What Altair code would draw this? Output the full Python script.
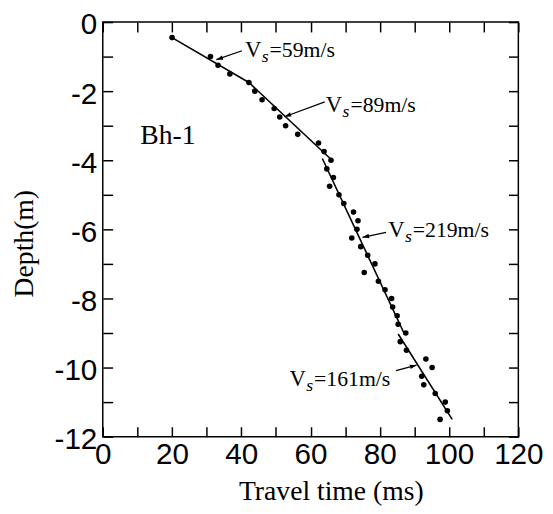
import math
import altair as alt
import pandas as pd

# ---- data ----
travel_time = [20.0, 31.1, 33.3, 36.7, 42.2, 43.9, 46.0, 49.5, 51.1, 52.8, 56.3,
               62.3, 63.9, 65.9, 64.7, 66.6, 65.5, 68.2, 69.6, 72.4, 73.7, 73.4,
               71.9, 74.5, 76.5, 78.6, 75.5, 79.6, 81.5, 83.4, 83.7, 85.0, 85.3,
               87.5, 85.9, 87.7, 93.3, 95.1, 92.1, 92.7, 96.0, 98.9, 99.5, 97.4]
depth = [-0.45, -1.0, -1.25, -1.5, -1.75, -2.0, -2.25, -2.5, -2.75, -3.0, -3.25,
         -3.5, -3.75, -4.0, -4.25, -4.5, -4.75, -5.0, -5.25, -5.5, -5.75, -6.0,
         -6.25, -6.5, -6.75, -7.0, -7.25, -7.5, -7.75, -8.0, -8.25, -8.5, -8.75,
         -9.0, -9.25, -9.5, -9.75, -10.0, -10.25, -10.5, -10.75, -11.0, -11.25, -11.5]

# fitted velocity segments
seg_id = ["59", "59", "89", "89", "219", "219", "161", "161"]
seg_t = [20.0, 42.2, 42.2, 66.2, 63.4, 87.2, 85.3, 100.9]
seg_d = [-0.45, -1.75, -1.75, -4.0, -3.95, -9.05, -9.03, -11.5]

# velocity annotations
vs_text = ["=59m/s", "=89m/s", "=219m/s", "=161m/s"]
label_t = [41.05, 64.4, 82.4, 53.9]
label_d = [-0.80, -2.40, -6.03, -10.34]
arrow_t0 = [40.2, 64.1, 81.8, 84.7]
arrow_d0 = [-0.83, -2.31, -6.09, -10.09]
arrow_t1 = [32.8, 52.5, 75.0, 90.6]
arrow_d1 = [-1.09, -2.74, -6.23, -9.93]

site_label = ["Bh-1"]
site_t = [18.8]
site_d = [-3.54]

x_ticks = [0, 10, 20, 30, 40, 50, 60, 70, 80, 90, 100, 110, 120]
y_ticks = [-12, -11, -10, -9, -8, -7, -6, -5, -4, -3, -2, -1, 0]

W, H = 421, 420
SX, SY = W / 120.0, H / 12.0

pts = pd.DataFrame({"t": travel_time, "d": depth})
segs = pd.DataFrame({"seg": seg_id, "t": seg_t, "d": seg_d})
ann = pd.DataFrame({"txt": vs_text, "t": label_t, "d": label_d})
arr = pd.DataFrame({"t0": arrow_t0, "d0": arrow_d0, "t1": arrow_t1, "d1": arrow_d1})
arr["ang"] = [
    math.degrees(math.atan2(-(b1 - b0) * SY, (a1 - a0) * SX)) % 360
    for a0, b0, a1, b1 in zip(arrow_t0, arrow_d0, arrow_t1, arrow_d1)
]
site = pd.DataFrame({"txt": site_label, "t": site_t, "d": site_d})

xs = alt.Scale(domain=[0, 120], nice=False, zero=False)
ys = alt.Scale(domain=[-12, 0], nice=False, zero=False)

x_main = alt.Axis(
    orient="bottom", offset=-10, values=x_ticks, tickSize=10, tickWidth=1.5,
    tickColor="black", domain=False, grid=False,
    labelExpr="datum.value % 20 == 0 ? datum.label : ''",
    labelFont="Liberation Sans", labelFontSize=30, labelColor="black",
    labelPadding=3, labelFlush=False, labelOverlap=False,
    title="Travel time (ms)", titleFont="Liberation Serif", titleFontSize=28,
    titleFontWeight="normal", titleColor="black", titleX=231, titleY=74,
    titleAlign="center", titleBaseline="alphabetic",
)
y_main = alt.Axis(
    orient="left", offset=-10, values=y_ticks, tickSize=10, tickWidth=1.5,
    tickColor="black", domain=False, grid=False,
    labelExpr="datum.value % 2 == 0 ? replace(datum.label, '\u2212', '-') : ''",
    labelFont="Liberation Sans", labelFontSize=30, labelColor="black",
    labelPadding=6, labelOffset=3, labelFlush=False, labelOverlap=False,
    title="Depth(m)", titleFont="Liberation Serif", titleFontSize=28,
    titleFontWeight="normal", titleColor="black", titleX=-89, titleY=224,
    titleAngle=270, titleAlign="center", titleBaseline="middle",
)
x_top = alt.Axis(
    orient="top", offset=-10, values=x_ticks, tickSize=10, tickWidth=1.5,
    tickColor="black", domain=False, grid=False, labels=False, title=None,
)
y_right = alt.Axis(
    orient="right", offset=-10, values=y_ticks, tickSize=10, tickWidth=1.5,
    tickColor="black", domain=False, grid=False, labels=False, title=None,
)

points = alt.Chart(pts).mark_circle(color="black", size=32, opacity=1).encode(
    x=alt.X("t:Q", scale=xs, axis=x_main),
    y=alt.Y("d:Q", scale=ys, axis=y_main),
)

lines = alt.Chart(segs).mark_line(color="black", strokeWidth=1.6).encode(
    x=alt.X("t:Q", scale=xs, axis=x_top),
    y=alt.Y("d:Q", scale=ys, axis=y_right),
    detail="seg:N",
)

arrow_lines = alt.Chart(arr).mark_rule(color="black", strokeWidth=1.3).encode(
    x=alt.X("t0:Q", scale=xs, axis=None),
    y=alt.Y("d0:Q", scale=ys, axis=None),
    x2="t1:Q",
    y2="d1:Q",
)

arrow_heads = alt.Chart(arr).mark_point(
    shape="M0,0L-1,-0.34L-1,0.34Z", filled=True, color="black", size=180, opacity=1
).encode(
    x=alt.X("t1:Q", scale=xs, axis=None),
    y=alt.Y("d1:Q", scale=ys, axis=None),
    angle=alt.Angle("ang:Q", scale=None),
)

v_txt = alt.Chart(ann).mark_text(
    text="V", font="Liberation Serif", fontSize=23, align="left",
    baseline="middle", color="black",
).encode(x=alt.X("t:Q", scale=xs, axis=None), y=alt.Y("d:Q", scale=ys, axis=None))

s_txt = alt.Chart(ann).mark_text(
    text="s", font="Liberation Serif", fontStyle="italic", fontSize=18,
    align="left", baseline="middle", color="black", dx=17, dy=7,
).encode(x=alt.X("t:Q", scale=xs, axis=None), y=alt.Y("d:Q", scale=ys, axis=None))

rest_txt = alt.Chart(ann).mark_text(
    font="Liberation Serif", fontSize=22, align="left", baseline="middle",
    color="black", dx=25,
).encode(
    x=alt.X("t:Q", scale=xs, axis=None),
    y=alt.Y("d:Q", scale=ys, axis=None),
    text="txt:N",
)

site_txt = alt.Chart(site).mark_text(
    font="Liberation Serif", fontSize=28, align="center", baseline="alphabetic",
    color="black",
).encode(
    x=alt.X("t:Q", scale=xs, axis=None),
    y=alt.Y("d:Q", scale=ys, axis=None),
    text="txt:N",
)

chart = (
    alt.layer(points, lines, arrow_lines, arrow_heads, v_txt, s_txt, rest_txt, site_txt)
    .resolve_axis(x="independent", y="independent")
    .properties(
        width=W, height=H,
        autosize=alt.AutoSizeParams(type="none"),
        padding={"left": 96, "top": 11, "right": 27, "bottom": 67},
        background="white",
    )
    .configure_view(stroke="black", strokeWidth=1.5)
)

chart.save("out.html", embed_options={"renderer": "svg", "actions": False})
